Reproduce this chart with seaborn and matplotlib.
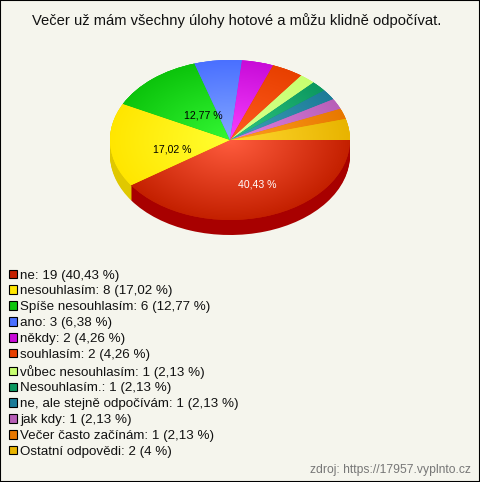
import numpy as np
import seaborn as sns
import matplotlib.pyplot as plt
from matplotlib.colors import LinearSegmentedColormap, to_rgb
from matplotlib.patches import Patch, Rectangle

title = 'Večer už mám všechny úlohy hotové a můžu klidně odpočívat.'
source = 'zdroj: https://17957.vyplnto.cz'
answers = ['ne', 'nesouhlasím', 'Spíše nesouhlasím', 'ano', 'někdy', 'souhlasím',
           'vůbec nesouhlasím', 'Nesouhlasím.', 'ne, ale stejně odpočívám', 'jak kdy',
           'Večer často začínám', 'Ostatní odpovědi']
counts = [19, 8, 6, 3, 2, 2, 1, 1, 1, 1, 1, 2]
legend_pct = ['40,43', '17,02', '12,77', '6,38', '4,26', '4,26',
              '2,13', '2,13', '2,13', '2,13', '2,13', '4']
edge_colors = ['#c42000', '#ffe600', '#0cc40c', '#4a70ff', '#c80cd8', '#e84000',
               '#c8ff70', '#0c9860', '#1c7c98', '#b860b8', '#e87800', '#e8b400']
center_colors = ['#ff5c3e', '#ffff30', '#34f834', '#84a8ff', '#f840ff', '#ff5c20',
                 '#d8ff90', '#30c880', '#40a0b8', '#e080e0', '#ffa020', '#ffd830']
side_colors = ['#a80000', '#e0c800']
pie_labels = {0: '40,43 %', 1: '17,02 %', 2: '12,77 %'}
label_radius = [0.55, 0.5, 0.39]
label_shift = [(8, -2), (2, -7), (4, 1)]

bg = '#f5f5ed'
sns.set_style('white')
plt.rcParams['font.family'] = ['Liberation Sans', 'DejaVu Sans']

fig = plt.figure(figsize=(4.8, 4.82), dpi=100, facecolor=bg)
ax = fig.add_axes([0, 0, 1, 1], facecolor='none')

depth = 15 / 80
# side of the pie, stacked darker copies
for off in np.linspace(depth, 0, 16):
    ax.pie(counts, center=(0, -off), startangle=0, counterclock=False,
           colors=side_colors + edge_colors[2:], wedgeprops={'linewidth': 0})

wedges, _ = ax.pie(counts, startangle=0, counterclock=False, colors=edge_colors,
                   wedgeprops={'linewidth': 0})

# radial shading inside each slice
xx, yy = np.meshgrid(np.linspace(-1, 1, 300), np.linspace(-1, 1, 300))
rr = np.sqrt(xx ** 2 + yy ** 2)
for w, c0, c1 in zip(wedges, center_colors, edge_colors):
    cmap = LinearSegmentedColormap.from_list('s', [to_rgb(c0), to_rgb(c1)])
    im = ax.imshow(rr, extent=(-1, 1, -1, 1), origin='lower', cmap=cmap, vmin=0, vmax=1,
                   aspect='auto', interpolation='bilinear', zorder=3)
    im.set_clip_path(w)

for i, txt in pie_labels.items():
    w = wedges[i]
    mid = np.deg2rad((w.theta1 + w.theta2) / 2)
    ax.annotate(txt, (label_radius[i] * np.cos(mid), label_radius[i] * np.sin(mid)),
                xytext=label_shift[i], textcoords='offset pixels',
                ha='center', va='center', fontsize=7.6, zorder=5,
                color='white' if i == 0 else 'black')

ax.set_xlim(-230 / 120, 250 / 120)
ax.set_ylim(-342 / 80, 140 / 80)
ax.set_aspect('auto')
ax.axis('off')

fig.text(237 / 480, 1 - 20.5 / 482, title, ha='center', va='center', fontsize=10.6, color='#111111')
fig.text(470.5 / 480, 1 - 470 / 482, source, ha='right', va='center', fontsize=8.7, color='#777777')

handles = [Patch(facecolor=c, edgecolor='black', linewidth=0.8) for c in edge_colors]
labels = [f'{a}: {n} ({p} %)' for a, n, p in zip(answers, counts, legend_pct)]
fig.legend(handles, labels, loc='upper left', bbox_to_anchor=(9 / 480, 1 - 269.5 / 482),
           frameon=False, fontsize=9.6, labelspacing=0.29, handlelength=0.6, handleheight=0.6,
           handletextpad=0.25, borderpad=0, borderaxespad=0, labelcolor='#111111')

fig.add_artist(Rectangle((0, 0), 1, 1, transform=fig.transFigure, fill=False,
                         edgecolor='black', linewidth=1.5))
fig.savefig('out.png', dpi=100, facecolor=bg)
